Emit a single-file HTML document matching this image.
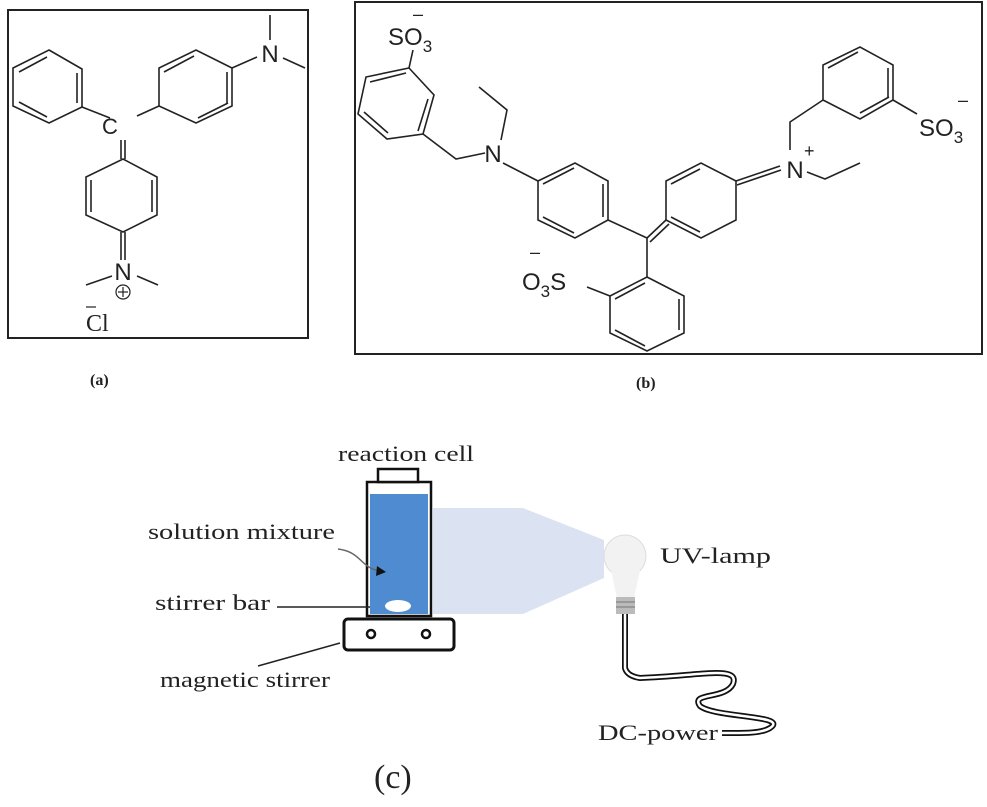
<!DOCTYPE html>
<html><head><meta charset="utf-8"><style>
html,body{margin:0;padding:0;background:#fff;}
svg{display:block;}
.s{font-family:"Liberation Sans",sans-serif;fill:#222;}
.r{font-family:"Liberation Serif",serif;fill:#222;}
</style></head><body>
<svg width="987" height="807" viewBox="0 0 987 807" xmlns="http://www.w3.org/2000/svg">
<g fill="none" stroke="#222" stroke-width="1.6">
<!-- Panel a -->
<rect x="8" y="10" width="300" height="328" stroke-width="2"/>
<polygon points="49,50 82,69 82,107 49,123 13,106 13,68"/>
<line x1="19" y1="72" x2="47" y2="57"/><line x1="77" y1="73" x2="77" y2="103"/><line x1="19" y1="102" x2="47" y2="117"/>
<line x1="82" y1="107" x2="110" y2="118"/>
<line x1="137" y1="116" x2="159" y2="106"/>
<polygon points="159,106 159,68 196,50 232,68 232,106 196,123"/>
<line x1="164" y1="72" x2="194" y2="56"/><line x1="227" y1="72" x2="227" y2="103"/><line x1="198" y1="118" x2="228" y2="103"/>
<line x1="232" y1="68" x2="257" y2="57"/><line x1="270" y1="40" x2="270" y2="15"/><line x1="283" y1="58" x2="305" y2="68"/>
<line x1="121" y1="140" x2="121" y2="159"/><line x1="125" y1="140" x2="125" y2="159"/>
<polygon points="123,159 157,177 157,215 123,232 86,215 86,177"/>
<line x1="91" y1="180" x2="91" y2="212"/><line x1="152" y1="180" x2="152" y2="212"/>
<line x1="121" y1="232" x2="121" y2="260"/><line x1="125" y1="232" x2="125" y2="260"/>
<line x1="112" y1="276" x2="86" y2="285"/><line x1="137" y1="276" x2="158" y2="285"/>
<circle cx="123" cy="292" r="7" stroke-width="1.2"/>
<line x1="118" y1="292" x2="128" y2="292" stroke-width="1.2"/><line x1="123" y1="287" x2="123" y2="297" stroke-width="1.2"/>
<line x1="86" y1="307" x2="96" y2="307" stroke-width="1.2"/>
<!-- Panel b -->
<rect x="355" y="2" width="627" height="352" stroke-width="2"/>
<polygon points="409,68 434,95 423,134 387,139 358,114 366,77"/>
<line x1="370" y1="82" x2="406" y2="73"/><line x1="428" y1="99" x2="418" y2="131"/><line x1="364" y1="112" x2="388" y2="133"/>
<line x1="409" y1="68" x2="413" y2="50"/>
<polyline points="423,134 456,159 485,153"/>
<polyline points="501,140 507,110 479,87"/>
<line x1="503" y1="163" x2="538" y2="181"/>
<polygon points="538,181 575,163 608,181 608,220 575,238 538,220"/>
<line x1="543" y1="184" x2="574" y2="168"/><line x1="603" y1="184" x2="603" y2="217"/><line x1="543" y1="217" x2="574" y2="233"/>
<line x1="608" y1="220" x2="647" y2="238"/>
<line x1="647" y1="238" x2="666" y2="220"/><line x1="650" y1="242" x2="669" y2="224"/>
<line x1="647" y1="238" x2="647" y2="277"/>
<polygon points="666,220 666,181 701,163 736,181 736,220 701,238"/>
<line x1="671" y1="184" x2="700" y2="169"/><line x1="671" y1="217" x2="700" y2="232"/>
<line x1="736" y1="181" x2="780" y2="166"/><line x1="737" y1="185" x2="781" y2="170"/>
<polyline points="807,172 825,179 860,163"/>
<polyline points="790,150 790,122 823,100"/>
<polygon points="823,100 860,119 893,100 893,65 860,47 823,65"/>
<line x1="828" y1="68" x2="858" y2="52"/><line x1="888" y1="68" x2="888" y2="97"/><line x1="860" y1="113" x2="889" y2="97"/>
<line x1="893" y1="100" x2="917" y2="114"/>
<polygon points="647,277 684,296 684,333 647,351 610,333 610,296"/>
<line x1="615" y1="299" x2="645" y2="283"/><line x1="679" y1="299" x2="679" y2="330"/><line x1="615" y1="330" x2="645" y2="346"/>
<line x1="610" y1="296" x2="587" y2="287"/>
</g>
<g class="s" font-size="24">
<text x="110" y="134" font-size="22" text-anchor="middle">C</text>
<text x="270" y="62" text-anchor="middle">N</text>
<text x="123" y="280" text-anchor="middle">N</text>
<text x="388" y="45">SO<tspan font-size="17" dy="7">3</tspan></text>
<text x="413" y="20" font-size="18">–</text>
<text x="493" y="162" text-anchor="middle">N</text>
<text x="795" y="178" text-anchor="middle">N</text>
<text x="804" y="157" font-size="18">+</text>
<text x="919" y="136">SO<tspan font-size="17" dy="7">3</tspan></text>
<text x="958" y="106" font-size="18">–</text>
<text x="522" y="290">O<tspan font-size="17" dy="7">3</tspan><tspan dy="-7">S</tspan></text>
<text x="530" y="258" font-size="18">–</text>
</g>
<text class="r" x="86" y="331" font-size="24">Cl</text>
<text class="r" x="90" y="385" font-size="16" font-weight="bold">(a)</text>
<text class="r" x="636" y="388" font-size="16" font-weight="bold">(b)</text>
<!-- Panel c -->
<polygon points="433,508 523,508 604,540 604,578 523,614 433,614" fill="#dbe3f2"/>
<rect x="367" y="482" width="64" height="134" fill="#fff" stroke="#111" stroke-width="2.5"/>
<rect x="370" y="494" width="58" height="120" fill="#4f8bd0"/>
<rect x="378" y="469" width="40" height="13" fill="#fff" stroke="#111" stroke-width="2.5"/>
<ellipse cx="398" cy="606" rx="13" ry="6" fill="#fff"/>
<rect x="344" y="619" width="110" height="31" rx="4" fill="#fff" stroke="#111" stroke-width="3"/>
<circle cx="371" cy="634" r="4" fill="none" stroke="#111" stroke-width="2.5"/>
<circle cx="426" cy="634" r="4" fill="none" stroke="#111" stroke-width="2.5"/>
<line x1="277" y1="607" x2="370" y2="607" stroke="#222" stroke-width="1.5"/>
<line x1="258" y1="666" x2="340" y2="643" stroke="#222" stroke-width="1.5"/>
<path d="M338,549 C362,552 360,568 380,571" fill="none" stroke="#666" stroke-width="1.5"/>
<polygon points="386,572 377,566 376,576" fill="#111"/>
<!-- bulb -->
<circle cx="625" cy="556" r="21" fill="#f2f2f2" stroke="#ddd"/>
<path d="M611,570 L617,598 L634,598 L640,570 Z" fill="#f2f2f2"/>
<rect x="616" y="597" width="19" height="17" fill="#bbb"/>
<line x1="616" y1="602" x2="635" y2="602" stroke="#777"/><line x1="616" y1="607" x2="635" y2="607" stroke="#777"/>
<path d="M625,614 L625,668 Q627,676 640,678 C700,676 740,665 733,684 C725,700 690,692 700,706 C715,718 790,715 770,728 C760,734 740,733 722,733" fill="none" stroke="#111" stroke-width="6"/>
<path d="M625,614 L625,668 Q627,676 640,678 C700,676 740,665 733,684 C725,700 690,692 700,706 C715,718 790,715 770,728 C760,734 740,733 722,733" fill="none" stroke="#fff" stroke-width="2.5"/>
<g class="r" font-size="22">
<text x="338" y="461" textLength="136" lengthAdjust="spacingAndGlyphs">reaction cell</text>
<text x="148" y="539" textLength="187" lengthAdjust="spacingAndGlyphs">solution mixture</text>
<text x="155" y="610" textLength="115" lengthAdjust="spacingAndGlyphs">stirrer bar</text>
<text x="160" y="687" textLength="170" lengthAdjust="spacingAndGlyphs">magnetic stirrer</text>
<text x="660" y="563" textLength="111" lengthAdjust="spacingAndGlyphs">UV-lamp</text>
<text x="598" y="740" textLength="120" lengthAdjust="spacingAndGlyphs">DC-power</text>
<text x="374" y="788" font-size="34">(c)</text>
</g>
</svg>
</body></html>
